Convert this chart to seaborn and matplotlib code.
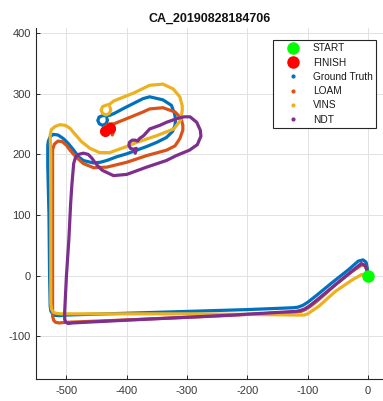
import matplotlib
matplotlib.use("Agg")
import matplotlib.pyplot as plt
from matplotlib.lines import Line2D
import seaborn as sns

# ---- trajectory data (metres, local frame) ----
gt_x = [0, -1, -3, -8, -16, -32, -60, -87, -100, -108, -116, -125, -200, -300,
        -400, -500, -512, -519, -523, -526, -527, -528, -529, -531, -531, -530,
        -527, -522, -514, -505, -497, -488, -480, -472, -456, -444, -433, -417,
        -400, -367, -350, -334, -324, -320, -319, -321, -326, -340, -362, -373,
        -389, -405, -420, -428, -434, -440, -446, -448, -445.5, -440, -434.5,
        -432, -433]
gt_y = [0, 12, 22, 26, 24, 10, -12, -34, -44, -49, -52, -53, -56, -59,
        -62, -65, -66, -65.5, -63, -58, -50, 0, 100, 180, 215, 222,
        229, 233, 232, 226, 218, 207, 196, 190, 186, 187, 190, 196,
        201, 213, 220, 228, 238, 248, 258, 268, 281, 290, 295, 292,
        284, 276, 268, 264.5, 264, 264, 261.5, 256, 250.5, 248, 250.5,
        256, 260]

loam_x = [0, -2, -4, -10, -26, -54, -82, -96, -104, -111, -120, -200, -281,
          -400, -500, -512, -518, -521, -523, -523, -523, -523, -523, -520,
          -514, -507, -500, -494, -488, -480, -472, -455, -433, -400, -367,
          -334, -320, -312, -307, -307, -309, -314, -320, -340, -362, -373,
          -400, -415, -421, -428, -433.5, -435.5, -433.5, -428, -422.5,
          -420.5, -422, -424]
loam_y = [0, 10, 16, 18, 7, -15, -40, -51, -56, -59, -60, -64, -68,
          -73, -77, -78, -77, -74, -67, 0, 100, 190, 208, 217,
          222, 221, 215, 207, 200, 192, 185, 178, 179, 187, 198,
          207, 214, 226, 240, 248, 256, 264, 270, 277, 275, 270,
          259, 253, 250.5, 250.5, 248, 243, 237.5, 235.5, 237.5,
          243, 237, 232]

vins_x = [0, -10, -26, -54, -82, -94, -100, -106, -115, -200, -300, -400, -500,
          -510, -518, -522, -525, -526, -526, -526, -526, -527, -525, -519,
          -511, -502, -494, -489, -475, -461, -445, -428, -417, -400, -383,
          -350, -322, -311, -308, -308, -312, -323, -340, -362, -389, -412,
          -422, -428, -434.5, -440, -442.5, -440, -434.5, -429, -426.5, -428]
vins_y = [0, 2, -7, -26, -51, -59, -63, -65, -65, -64, -63, -63, -63,
          -63, -62, -60, -55, -45, 0, 100, 200, 232, 241, 246,
          249, 248, 243, 237, 221, 210, 203, 203, 207, 213, 220,
          231, 242, 256, 272, 280, 295, 308, 316, 314, 301, 292,
          288, 283, 281, 279, 273, 267.5, 265, 267.5, 273, 278]

ndt_x = [0, -2, -5, -11, -26, -54, -82, -97, -105, -112, -120, -225, -391,
         -490, -497, -501, -503, -503, -500, -496, -493, -491, -488, -485,
         -480, -472, -464, -458, -453, -447, -441, -422, -400, -367, -334,
         -318, -296, -283, -277, -278, -284, -295, -305, -317, -334, -345,
         -362, -372, -379, -382, -386, -391, -395.5, -396.5, -394, -389,
         -384, -384.5, -386]
ndt_y = [0, 10, 17, 20, 8, -15, -38, -50, -55, -57.5, -59, -65, -73,
         -78, -79, -77, -72, -60, 0, 60, 120, 150, 185, 195,
         200, 202, 200, 194, 187, 180, 174, 165, 167, 179, 190,
         198, 207, 216, 230, 240, 253, 262, 262, 259, 253, 248,
         242, 231, 226, 222, 223.5, 223.5, 220, 215, 210, 208.5,
         210, 206, 202]

start_x, start_y = [0], [0]
finish_x, finish_y = [-436, -428], [238, 243]

series = [
    ("Ground Truth", gt_x, gt_y, "#0072BD"),
    ("LOAM", loam_x, loam_y, "#D95319"),
    ("VINS", vins_x, vins_y, "#EDB120"),
    ("NDT", ndt_x, ndt_y, "#7E2F8E"),
]
title = "CA_20190828184706"

sns.set_theme(style="white")
plt.rcParams["font.family"] = ["Liberation Sans", "DejaVu Sans"]
plt.rcParams["axes.unicode_minus"] = False
plt.rcParams["lines.solid_joinstyle"] = "round"
plt.rcParams["lines.solid_capstyle"] = "round"

axis_col = "#262626"

fig = plt.figure(figsize=(3.83, 4.01), dpi=100, facecolor="white")
ax = fig.add_axes([0.0948, 0.0541, 0.9052, 0.8753])
ax.set_facecolor("white")

for name, xs, ys, col in series:
    sns.lineplot(x=xs, y=ys, sort=False, estimator=None, color=col,
                 linewidth=2.3, ax=ax, legend=False)

ax.plot(start_x, start_y, "o", color="#00FF00", markersize=8, zorder=5)
ax.plot(finish_x, finish_y, "o", color="#FF0000", markersize=7, zorder=5)

ax.set_xlim(-550, 25)
ax.set_ylim(-171, 408)
ax.set_xticks([-500, -400, -300, -200, -100, 0])
ax.set_yticks([-100, 0, 100, 200, 300, 400])

ax.grid(True, color="#e2e2e2", linewidth=0.7)
ax.set_axisbelow(True)
for side in ("top", "right"):
    ax.spines[side].set_visible(False)
for side in ("left", "bottom"):
    ax.spines[side].set_color(axis_col)
    ax.spines[side].set_linewidth(0.8)
ax.tick_params(axis="both", direction="in", length=3, width=0.7,
               colors=axis_col, labelsize=8, labelcolor="#3a3a3a",
               left=True, bottom=True)
ax.tick_params(axis="x", pad=5)
ax.tick_params(axis="y", pad=4)

ax.set_title(title, fontsize=9, fontweight="bold", color="#111111", pad=5)

handles = [
    Line2D([], [], linestyle="none", marker="o", color="#00FF00", markersize=8),
    Line2D([], [], linestyle="none", marker="o", color="#FF0000", markersize=8),
]
labels = ["START", "FINISH"]
for name, xs, ys, col in series:
    handles.append(Line2D([], [], linestyle="none", marker="o", color=col,
                          markersize=2))
    labels.append(name)

leg = ax.legend(handles, labels, loc="upper right",
                bbox_to_anchor=(0.980, 0.967), borderaxespad=0,
                fontsize=7.3, frameon=True, fancybox=False, framealpha=1,
                edgecolor=axis_col, borderpad=0.35, handlelength=3.3,
                handletextpad=0.3, labelspacing=0.42)
leg.get_frame().set_linewidth(0.8)
for t in leg.get_texts():
    t.set_color("#1a1a1a")

fig.savefig("out.png", dpi=100, facecolor="white")
